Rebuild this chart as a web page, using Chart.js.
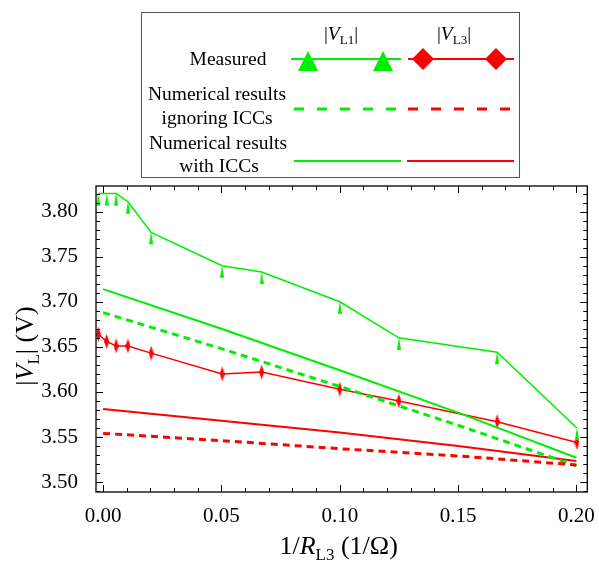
<!DOCTYPE html>
<html>
<head>
<meta charset="utf-8">
<script src="https://cdn.jsdelivr.net/npm/chart.js@4.4.0/dist/chart.umd.min.js"></script>
<style>
  body { margin: 0; background: #fff; }
  #wrap { position: relative; width: 599px; height: 561px; }
  #legend {
    position: absolute; left: 141px; top: 12px; width: 377px; height: 164px;
    border: 1px solid #555; font-family: "Liberation Serif", serif; font-size: 19.5px; color: #000;
  }
  .t { position: absolute; white-space: nowrap; transform: translate(-50%, -50%); line-height: 1; }
  .t sub { font-size: 13px; vertical-align: -4px; line-height: 0; }
</style>
</head>
<body>
<div id="wrap">
  <canvas id="myChart" width="599" height="561"></canvas>
  <div id="legend">
    <div class="t" style="left:199px;top:21px">|<i>V</i><sub>L1</sub>|</div>
    <div class="t" style="left:312px;top:21px">|<i>V</i><sub>L3</sub>|</div>
    <div class="t" style="left:86px;top:46px">Measured</div>
    <div class="t" style="left:75px;top:81px">Numerical results</div>
    <div class="t" style="left:75px;top:105px">ignoring ICCs</div>
    <div class="t" style="left:76px;top:130px">Numerical results</div>
    <div class="t" style="left:77px;top:153px">with ICCs</div>
    <svg width="377" height="164" style="position:absolute;left:0;top:0">
      <line x1="149" y1="46" x2="259" y2="46" stroke="#00ee00" stroke-width="2"/>
      <polygon points="166,38 156,58 176,58" fill="#00ee00"/>
      <polygon points="241,38 231,58 251,58" fill="#00ee00"/>
      <line x1="266" y1="46" x2="372" y2="46" stroke="#ff0000" stroke-width="2"/>
      <polygon points="281,35 292,46 281,57 270,46" fill="#ff0000"/>
      <polygon points="354,35 365,46 354,57 343,46" fill="#ff0000"/>
      <line x1="152" y1="96" x2="258" y2="96" stroke="#00ee00" stroke-width="3" stroke-dasharray="10,13"/>
      <line x1="266" y1="96" x2="370" y2="96" stroke="#ff0000" stroke-width="3" stroke-dasharray="10,13"/>
      <line x1="152" y1="148" x2="259" y2="148" stroke="#00ee00" stroke-width="2"/>
      <line x1="265" y1="148" x2="372" y2="148" stroke="#ff0000" stroke-width="2"/>
    </svg>
  </div>
</div>
<script>
// measured points (1/R_L3 in 1/ohm, |V| in volts)
const measX = [-0.002, 0.0015, 0.0055, 0.0105, 0.0203, 0.0503, 0.067, 0.1, 0.125, 0.1665, 0.2002];
const measL1 = [3.82, 3.82, 3.82, 3.811, 3.777, 3.74, 3.733, 3.7, 3.66, 3.644, 3.56];
const measL3 = [3.664, 3.656, 3.651, 3.651, 3.643, 3.62, 3.622, 3.603, 3.59, 3.567, 3.544];

// numerical results
const numX = [0, 0.05, 0.1, 0.15, 0.2];
const noIccL1 = [3.688, 3.648, 3.606, 3.563, 3.518];
const noIccL3 = [3.554, 3.546, 3.537, 3.529, 3.519];
const iccL1 = [3.714, 3.67, 3.624, 3.577, 3.527];
const iccL3 = [3.581, 3.568, 3.555, 3.54, 3.5235];

const xTicks = [0, 0.05, 0.1, 0.15, 0.2];
const yTicks = [3.5, 3.55, 3.6, 3.65, 3.7, 3.75, 3.8];

const GREEN = "#00ee00";
const RED = "#ff0000";
const FONT = "Liberation Serif";

function pts(xs, ys) {
  return xs.map((x, i) => ({ x: x, y: ys[i] }));
}

// thin squashed marker glyphs like the original
function triMarker() {
  const c = document.createElement("canvas");
  c.width = 4; c.height = 26;
  const g = c.getContext("2d");
  g.fillStyle = GREEN;
  g.beginPath();
  g.moveTo(2, 12); g.lineTo(4, 25); g.lineTo(0, 25);
  g.closePath(); g.fill();
  return c;
}
function diaMarker() {
  const c = document.createElement("canvas");
  c.width = 5; c.height = 15;
  const g = c.getContext("2d");
  g.fillStyle = RED;
  g.beginPath();
  g.moveTo(2.5, 0); g.lineTo(5, 7.5); g.lineTo(2.5, 15); g.lineTo(0, 7.5);
  g.closePath(); g.fill();
  return c;
}

// frame with inward ticks on all four sides
const frameTicks = {
  id: "frameTicks",
  afterDraw(chart) {
    const { ctx, chartArea: a, scales } = chart;
    ctx.save();
    ctx.strokeStyle = "#000";
    ctx.lineWidth = 1.3;
    ctx.strokeRect(a.left, a.top, a.right - a.left, a.bottom - a.top);
    ctx.lineWidth = 1;
    ctx.beginPath();
    for (let i = 0; i <= 20; i++) {
      const px = Math.round(scales.x.getPixelForValue(i / 100)) + 0.5;
      const len = i % 5 === 0 ? 7 : 4;
      ctx.moveTo(px, a.bottom); ctx.lineTo(px, a.bottom - len);
      ctx.moveTo(px, a.top); ctx.lineTo(px, a.top + len);
    }
    for (let i = 349; i <= 382; i++) {
      const py = Math.round(scales.y.getPixelForValue(i / 100)) + 0.5;
      const len = i % 5 === 0 ? 7 : 4;
      ctx.moveTo(a.left, py); ctx.lineTo(a.left + len, py);
      ctx.moveTo(a.right, py); ctx.lineTo(a.right - len, py);
    }
    ctx.stroke();
    ctx.restore();
  },
};

// axis titles with italic letters and subscripts
function drawRich(ctx, parts, cx, y) {
  let w = 0;
  parts.forEach((p) => {
    ctx.font = p.font;
    p.w = ctx.measureText(p.t).width;
    w += p.w;
  });
  let x = cx - w / 2;
  parts.forEach((p) => {
    ctx.font = p.font;
    ctx.fillText(p.t, x, y + (p.dy || 0));
    x += p.w;
  });
}
const axisTitles = {
  id: "axisTitles",
  afterDraw(chart) {
    const { ctx, chartArea: a } = chart;
    const big = "26px '" + FONT + "'";
    const bigI = "italic 26px '" + FONT + "'";
    const small = "17px '" + FONT + "'";
    ctx.save();
    ctx.fillStyle = "#000";
    ctx.textBaseline = "alphabetic";
    drawRich(ctx, [
      { t: "1/", font: big },
      { t: "R", font: bigI },
      { t: "L3", font: small, dy: 6 },
      { t: " (1/\u03A9)", font: big },
    ], (a.left + a.right) / 2 - 3, 554);
    ctx.translate(33, 346);
    ctx.rotate(-Math.PI / 2);
    drawRich(ctx, [
      { t: "|", font: big },
      { t: "V", font: bigI },
      { t: "L", font: small, dy: 6 },
      { t: "| (V)", font: big },
    ], 0, 0);
    ctx.restore();
  },
};

const tickFont = { family: FONT, size: 21 };

const ctx = document.getElementById("myChart");
new Chart(ctx, {
  type: "line",
  data: {
    datasets: [
      {
        label: "Numerical |VL3| ignoring ICCs",
        data: pts(numX, noIccL3),
        borderColor: RED,
        borderWidth: 3,
        borderDash: [7, 5],
        pointRadius: 0,
      },
      {
        label: "Numerical |VL1| ignoring ICCs",
        data: pts(numX, noIccL1),
        borderColor: GREEN,
        borderWidth: 3,
        borderDash: [7, 5],
        pointRadius: 0,
      },
      {
        label: "Numerical |VL3| with ICCs",
        data: pts(numX, iccL3),
        borderColor: RED,
        borderWidth: 2,
        pointRadius: 0,
      },
      {
        label: "Numerical |VL1| with ICCs",
        data: pts(numX, iccL1),
        borderColor: GREEN,
        borderWidth: 2,
        pointRadius: 0,
      },
      {
        label: "Measured |VL1|",
        data: pts(measX, measL1),
        borderColor: GREEN,
        borderWidth: 1.5,
        pointStyle: triMarker(),
        pointRadius: 3,
      },
      {
        label: "Measured |VL3|",
        data: pts(measX, measL3),
        borderColor: RED,
        borderWidth: 1.5,
        pointStyle: diaMarker(),
        pointRadius: 3,
      },
    ],
  },
  options: {
    responsive: false,
    animation: false,
    layout: { padding: { top: 186, right: 10, left: 0, bottom: 0 } },
    plugins: { legend: { display: false }, tooltip: { enabled: false } },
    scales: {
      x: {
        type: "linear",
        min: -0.003,
        max: 0.2046,
        grid: { display: false },
        border: { display: false },
        afterBuildTicks: (s) => { s.ticks = xTicks.map((v) => ({ value: v })); },
        afterFit: (s) => { s.height = 69; },
        ticks: {
          autoSkip: false,
          maxRotation: 0,
          padding: 4,
          color: "#000",
          font: tickFont,
          callback: (v) => Number(v).toFixed(2),
        },
      },
      y: {
        min: 3.489,
        max: 3.8284,
        grid: { display: false },
        border: { display: false },
        afterBuildTicks: (s) => { s.ticks = yTicks.map((v) => ({ value: v })); },
        afterFit: (s) => { s.width = 96; },
        ticks: {
          autoSkip: false,
          padding: 10,
          color: "#000",
          font: tickFont,
          callback: (v) => Number(v).toFixed(2),
        },
      },
    },
  },
  plugins: [frameTicks, axisTitles],
});
</script>
</body>
</html>
